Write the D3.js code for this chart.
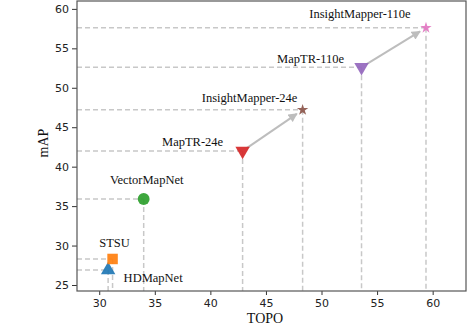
<!DOCTYPE html>
<html>
<head>
<meta charset="utf-8">
<script src="https://cdn.jsdelivr.net/npm/d3@7"></script>
<style>
  body { margin: 0; background: #fff; }
  .tick text { font-family: "DejaVu Sans", sans-serif; font-size: 11px; fill: #222; }
  .lbl { font-family: "Liberation Serif", "Times New Roman", serif; font-size: 12.5px; fill: #111; }
  .axtitle { font-family: "Liberation Serif", "Times New Roman", serif; font-size: 14px; fill: #111; }
</style>
</head>
<body>
<div id="chart"></div>
<script>
// Methods and their scores
const methods = ["HDMapNet", "STSU", "VectorMapNet", "MapTR-24e", "InsightMapper-24e", "MapTR-110e", "InsightMapper-110e"];
const topoScores = [30.8, 31.2, 34.0, 42.9, 48.3, 53.6, 59.4];
const mapScores = [26.9, 28.3, 35.9, 42.0, 47.2, 52.6, 57.6];
const shapes = ["triangle", "square", "circle", "down", "star", "down", "star"];
const colors = ["#1f77b4", "#ff7f0e", "#2ca02c", "#d62728", "#8c564b", "#9467bd", "#e377c2"];
const xTicks = [30, 35, 40, 45, 50, 55, 60];
const yTicks = [25, 30, 35, 40, 45, 50, 55, 60];
// improvement arrows: [from index, to index]
const arrows = [[3, 4], [5, 6]];

const W = 468, H = 326;
const margin = { top: 1, right: 2, bottom: 35, left: 77 };

const svg = d3.select("#chart").append("svg")
    .attr("width", W).attr("height", H);

const x = d3.scaleLinear().domain([28, 63]).range([margin.left, W - margin.right]);
const y = d3.scaleLinear().domain([24.24, 61]).range([H - margin.bottom, margin.top]);

const data = methods.map((m, i) => ({ name: m, topo: topoScores[i], map: mapScores[i], shape: shapes[i], color: colors[i] }));

// label placement relative to marker (pixels)
const labelOffset = {
    "HDMapNet": [45, 9],
    "STSU": [2, -15],
    "VectorMapNet": [3, -18],
    "MapTR-24e": [-50, -8],
    "InsightMapper-24e": [-53, -11],
    "MapTR-110e": [-51, -7],
    "InsightMapper-110e": [-66, -13]
};

// dashed guide lines
const guides = svg.append("g").attr("stroke", "#c8c8c8").attr("stroke-width", 1.5)
    .attr("stroke-dasharray", "5,3").attr("fill", "none");
data.forEach(d => {
    guides.append("line")
        .attr("x1", x.range()[0]).attr("x2", x(d.topo))
        .attr("y1", y(d.map)).attr("y2", y(d.map));
    guides.append("line")
        .attr("x1", x(d.topo)).attr("x2", x(d.topo))
        .attr("y1", y(d.map)).attr("y2", y.range()[0]);
});

// arrow head
svg.append("defs").append("marker")
    .attr("id", "head")
    .attr("viewBox", "0 0 10 10")
    .attr("refX", 9).attr("refY", 5)
    .attr("markerWidth", 5).attr("markerHeight", 4.5)
    .attr("markerUnits", "strokeWidth")
    .attr("orient", "auto")
    .append("path").attr("d", "M0,0L10,5L0,10Z").attr("fill", "#bdbdbd");

arrows.forEach(([a, b]) => {
    const x0 = x(data[a].topo), y0 = y(data[a].map);
    const x1 = x(data[b].topo), y1 = y(data[b].map);
    const len = Math.hypot(x1 - x0, y1 - y0);
    const ux = (x1 - x0) / len, uy = (y1 - y0) / len;
    svg.append("line")
        .attr("x1", x0 + ux * 5).attr("y1", y0 + uy * 5)
        .attr("x2", x1 - ux * 7).attr("y2", y1 - uy * 7)
        .attr("stroke", "#bdbdbd").attr("stroke-width", 2)
        .attr("marker-end", "url(#head)");
});

// axes
const gx = svg.append("g")
    .attr("transform", `translate(0,${H - margin.bottom})`)
    .call(d3.axisBottom(x).tickValues(xTicks).tickSize(4).tickPadding(4));
const gy = svg.append("g")
    .attr("transform", `translate(${margin.left},0)`)
    .call(d3.axisLeft(y).tickValues(yTicks).tickSize(5).tickPadding(3));
[gx, gy].forEach(g => {
    g.select(".domain").remove();
    g.selectAll(".tick line").attr("stroke", "#333");
});

// frame
svg.append("rect")
    .attr("x", margin.left).attr("y", margin.top)
    .attr("width", W - margin.left - margin.right)
    .attr("height", H - margin.top - margin.bottom)
    .attr("fill", "none").attr("stroke", "#555").attr("stroke-width", 1.2);

// markers
const symType = {
    triangle: d3.symbolTriangle,
    down: d3.symbolTriangle,
    square: d3.symbolSquare,
    circle: d3.symbolCircle,
    star: d3.symbolStar
};
const symSize = { triangle: 90, down: 90, square: 110, circle: 110, star: 40 };
svg.append("g").selectAll("path")
    .data(data)
    .join("path")
    .attr("d", d => d3.symbol().type(symType[d.shape]).size(symSize[d.shape])())
    .attr("transform", d => `translate(${x(d.topo)},${y(d.map)})` + (d.shape === "down" ? " rotate(180)" : ""))
    .attr("fill", d => d.color)
    .attr("fill-opacity", 0.92);

// labels
svg.append("g").selectAll("text")
    .data(data)
    .join("text")
    .attr("class", "lbl")
    .attr("text-anchor", "middle")
    .attr("dominant-baseline", "middle")
    .attr("x", d => x(d.topo) + labelOffset[d.name][0])
    .attr("y", d => y(d.map) + labelOffset[d.name][1])
    .text(d => d.name);

// axis titles
svg.append("text").attr("class", "axtitle")
    .attr("text-anchor", "middle")
    .attr("x", 265).attr("y", 323)
    .text("TOPO");
svg.append("text").attr("class", "axtitle")
    .attr("text-anchor", "middle")
    .attr("transform", "translate(48,143) rotate(-90)")
    .text("mAP");
</script>
</body>
</html>
